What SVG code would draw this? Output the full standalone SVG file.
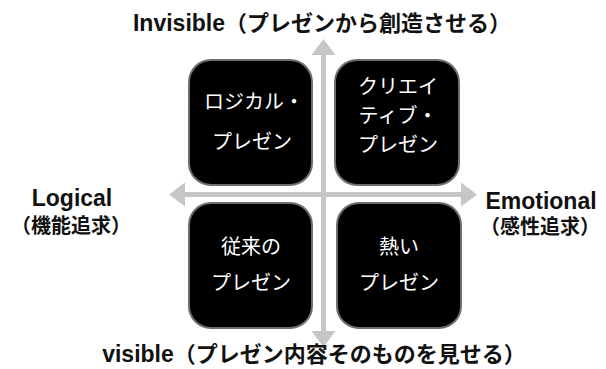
<svg xmlns="http://www.w3.org/2000/svg" width="606" height="369" viewBox="0 0 606 369">
<defs>
<marker id="head" viewBox="0 0 16 24" markerWidth="16" markerHeight="24" markerUnits="userSpaceOnUse" refX="2" refY="12" orient="auto-start-reverse">
<path d="M0,0 L16,12 L0,24 z" fill="#c6c6c6"/>
</marker>
<style>
.axis{stroke:#c6c6c6;stroke-width:5;fill:none}
.box{fill:#000;stroke:#6e6e6e;stroke-width:2}
.bt{fill:#fff;font-family:"Noto Sans CJK JP","Liberation Sans",sans-serif;font-size:20px;text-anchor:middle}
.lab{fill:#111;font-family:"Liberation Sans","Noto Sans CJK JP",sans-serif;font-weight:bold;font-size:22px;text-anchor:middle}
.lat{font-size:23px}
.labj{fill:#111;font-family:"Liberation Sans","Noto Sans CJK JP",sans-serif;font-weight:bold;font-size:20px;text-anchor:middle}
</style>
</defs>
<rect width="606" height="369" fill="#fff"/>
<g id="connectors">
<line class="axis" x1="323.5" y1="53" x2="323.5" y2="333" marker-start="url(#head)" marker-end="url(#head)"/>
<line class="axis" x1="183" y1="194.5" x2="463" y2="194.5" marker-start="url(#head)" marker-end="url(#head)"/>
</g>
<g id="logical-presen">
<rect class="box" x="189" y="60" width="123" height="125" rx="22"/>
<text class="bt" x="254" y="109">ロジカル・</text>
<text class="bt" x="252" y="149">プレゼン</text>
</g>
<g id="creative-presen">
<rect class="box" x="335" y="60" width="124" height="125" rx="22"/>
<text class="bt" x="398" y="93.5">クリエイ</text>
<text class="bt" x="398" y="122.5">ティブ・</text>
<text class="bt" x="398" y="152">プレゼン</text>
</g>
<g id="conventional-presen">
<rect class="box" x="189" y="203" width="123" height="125" rx="22"/>
<text class="bt" x="251" y="254">従来の</text>
<text class="bt" x="251" y="290">プレゼン</text>
</g>
<g id="passionate-presen">
<rect class="box" x="337" y="203" width="124" height="125" rx="22"/>
<text class="bt" x="399" y="254">熱い</text>
<text class="bt" x="399" y="290">プレゼン</text>
</g>
<g id="label-invisible">
<text class="lab" x="322" y="31"><tspan class="lat">Invisible</tspan>（プレゼンから創造させる）</text>
</g>
<g id="label-visible">
<text class="lab" x="314" y="362"><tspan class="lat">visible</tspan>（プレゼン内容そのものを見せる）</text>
</g>
<g id="label-logical">
<text class="lab lat" x="72" y="206">Logical</text>
<text class="labj" x="71" y="233">（機能追求）</text>
</g>
<g id="label-emotional">
<text class="lab lat" x="541" y="209">Emotional</text>
<text class="labj" x="540" y="234">（感性追求）</text>
</g>
</svg>
